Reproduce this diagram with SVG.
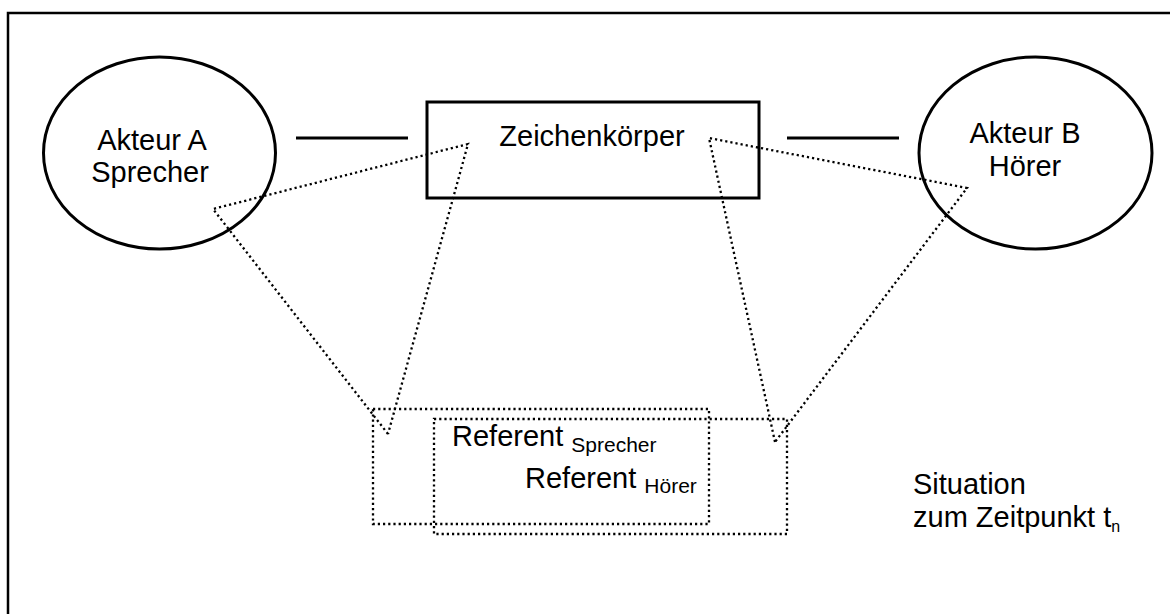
<svg xmlns="http://www.w3.org/2000/svg" width="1170" height="614" viewBox="0 0 1170 614">
<style>
  text { font-family: "Liberation Sans", Arial, sans-serif; fill: #000; }
  .t { font-size: 29px; }
  .sub { font-size: 21px; }
  .solid { fill: none; stroke: #000; stroke-width: 3; }
  .dot { fill: none; stroke: #000; stroke-width: 2.3; stroke-dasharray: 2.2 3; }
</style>
<rect x="0" y="0" width="1170" height="614" fill="#fff"/>
<rect id="frame" x="8" y="13" width="1200" height="700" fill="none" stroke="#000" stroke-width="2.5"/>
<g id="connectors">
  <line class="solid" x1="296" y1="138" x2="408" y2="138"/>
  <line class="solid" x1="787" y1="138" x2="899" y2="138"/>
  <polyline class="dot" points="388,434 213,209 468,144 388,434"/>
  <polyline class="dot" points="775,442 709,138 967,188 775,442"/>
</g>
<g id="akteurA">
  <ellipse class="solid" cx="159.5" cy="153" rx="116" ry="96" stroke-width="2.6"/>
  <text class="t" x="152" y="150" text-anchor="middle">Akteur A</text>
  <text class="t" x="150" y="182" text-anchor="middle">Sprecher</text>
</g>
<g id="zeichenkoerper">
  <rect class="solid" x="427" y="102" width="332" height="96"/>
  <text class="t" x="592" y="146" text-anchor="middle">Zeichenkörper</text>
</g>
<g id="akteurB">
  <ellipse class="solid" cx="1035.5" cy="153" rx="116.5" ry="96" stroke-width="2.6"/>
  <text class="t" x="1025" y="143" text-anchor="middle">Akteur B</text>
  <text class="t" x="1025" y="176" text-anchor="middle">Hörer</text>
</g>
<g id="referentSprecher">
  <rect class="dot" x="373" y="409" width="336" height="115"/>
  <text x="452" y="446"><tspan class="t">Referent </tspan><tspan class="sub" dy="6">Sprecher</tspan></text>
</g>
<g id="referentHoerer">
  <rect class="dot" x="434" y="419" width="353" height="115"/>
  <text x="525" y="488"><tspan class="t">Referent </tspan><tspan class="sub" dy="5">Hörer</tspan></text>
</g>
<g id="situation">
  <text class="t" x="913" y="494">Situation</text>
  <text x="913" y="527"><tspan class="t">zum Zeitpunkt t</tspan><tspan font-size="16" dy="5">n</tspan></text>
</g>
</svg>
